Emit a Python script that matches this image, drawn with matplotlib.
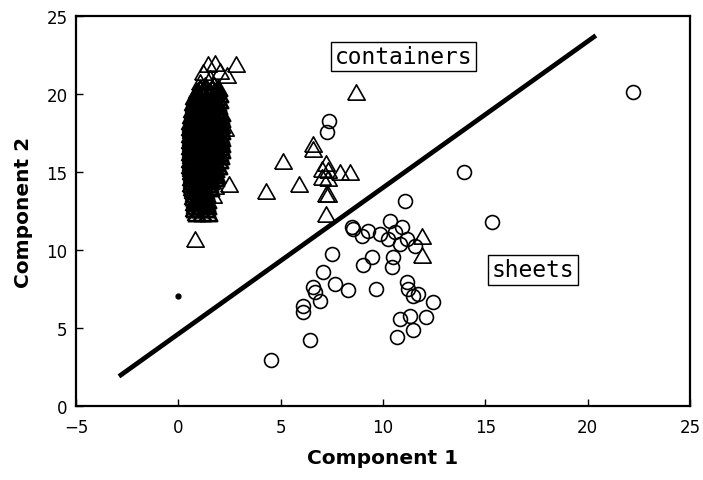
"""Scatter of the two principal components: containers vs sheets."""

import matplotlib

matplotlib.use("Agg")
import matplotlib.pyplot as plt
import numpy as np

# Containers core: rows of (component 2, [component 1 values])
core_rows = [
    (20.4, [1.05, 1.35, 1.65, 1.95]),
    (20.2, [0.9, 1.2, 1.5, 1.8]),
    (20.0, [0.85, 1.15, 1.45, 1.75, 2.0]),
    (19.8, [0.75, 1.05, 1.35, 1.65, 1.9]),
    (19.6, [0.8, 1.1, 1.4, 1.7, 2.0]),
    (19.4, [0.7, 1.0, 1.3, 1.6, 1.9]),
    (19.2, [0.75, 1.05, 1.35, 1.65, 1.95]),
    (19.0, [0.65, 0.95, 1.25, 1.55, 1.85]),
    (18.8, [0.7, 1.0, 1.3, 1.6, 1.9, 2.1]),
    (18.6, [0.6, 0.9, 1.2, 1.5, 1.8, 2.05]),
    (18.4, [0.65, 0.95, 1.25, 1.55, 1.85, 2.1]),
    (18.2, [0.55, 0.85, 1.15, 1.45, 1.75, 2.0]),
    (18.0, [0.6, 0.9, 1.2, 1.5, 1.8, 2.1]),
    (17.8, [0.55, 0.85, 1.15, 1.45, 1.75, 2.05]),
    (17.6, [0.6, 0.9, 1.2, 1.5, 1.8, 2.1]),
    (17.4, [0.55, 0.85, 1.15, 1.45, 1.75, 2.05]),
    (17.2, [0.6, 0.9, 1.2, 1.5, 1.8, 2.1]),
    (17.0, [0.55, 0.85, 1.15, 1.45, 1.75, 2.05]),
    (16.8, [0.6, 0.9, 1.2, 1.5, 1.8, 2.1]),
    (16.6, [0.55, 0.85, 1.15, 1.45, 1.75, 2.05]),
    (16.4, [0.6, 0.9, 1.2, 1.5, 1.8, 2.1]),
    (16.2, [0.55, 0.85, 1.15, 1.45, 1.75, 2.0]),
    (16.0, [0.6, 0.9, 1.2, 1.5, 1.8, 2.05]),
    (15.8, [0.55, 0.85, 1.15, 1.45, 1.75, 2.0]),
    (15.6, [0.6, 0.9, 1.2, 1.5, 1.8]),
    (15.4, [0.55, 0.85, 1.15, 1.45, 1.75, 1.95]),
    (15.2, [0.6, 0.9, 1.2, 1.5, 1.8]),
    (15.0, [0.6, 0.9, 1.2, 1.5, 1.75]),
    (14.8, [0.65, 0.95, 1.25, 1.55, 1.85]),
    (14.6, [0.6, 0.9, 1.2, 1.5, 1.8]),
    (14.4, [0.65, 0.95, 1.25, 1.55]),
    (14.2, [0.6, 0.9, 1.2, 1.5]),
    (14.0, [0.65, 0.95, 1.25, 1.55]),
    (13.8, [0.7, 1.0, 1.3]),
    (13.6, [0.75, 1.05, 1.35]),
    (13.4, [0.7, 1.0, 1.3]),
    (13.2, [0.8, 1.1, 1.4]),
    (13.0, [0.75, 1.05, 1.35]),
    (12.8, [0.8, 1.1, 1.4]),
    (12.6, [0.75, 1.05, 1.35]),
    (12.4, [0.85, 1.15, 1.45]),
]

# Containers around the core and scattered away from it
outer_x = [
    1.45, 1.8, 1.2, 2.03, 1.06, 1.55, 2.38, 2.82, 1.3, 1.75,
    2.5, 1.8, 1.7, 2.3, 0.8,
    6.6, 6.6, 5.1, 7.2, 7.0, 7.3, 7.9, 8.4, 7.0, 7.3,
    5.9, 4.3, 7.3, 7.2, 7.2, 8.7, 11.9, 11.9,
]
outer_y = [
    21.9, 22.0, 21.4, 21.5, 20.8, 21.0, 21.2, 21.9, 20.6, 20.6,
    14.2, 14.1, 13.5, 17.8, 10.7,
    16.8, 16.5, 15.7, 15.6, 15.2, 15.1, 15.0, 15.0, 14.7, 14.6,
    14.2, 13.8, 13.6, 12.3, 13.6, 20.1, 10.9, 9.7,
]

# Sheets (circles)
sheets_x = [
    4.53, 6.43, 6.09, 6.09, 6.58, 6.68, 6.92, 7.07, 7.51, 7.65,
    8.29, 8.48, 8.53, 9.26, 8.97, 9.02, 9.46, 9.66, 10.34, 9.85,
    10.24, 10.58, 10.83, 10.93, 11.17, 11.56, 10.49, 10.44, 11.07, 11.17,
    11.22, 11.46, 11.71, 12.44, 10.83, 11.32, 12.10, 11.46, 10.68, 13.95,
    15.32, 22.2, 7.36, 7.26,
]
sheets_y = [
    2.95, 4.23, 6.41, 6.03, 7.63, 7.31, 6.73, 8.59, 9.74, 7.82,
    7.44, 11.47, 11.35, 11.22, 10.90, 9.04, 9.55, 7.50, 11.86, 11.03,
    10.71, 11.15, 10.38, 11.47, 10.71, 10.26, 9.55, 8.91, 13.14, 7.95,
    7.50, 7.05, 7.18, 6.67, 5.58, 5.77, 5.71, 4.87, 4.42, 15.00,
    11.79, 20.13, 18.27, 17.56,
]

# Separating line between the two classes
boundary_x = [-2.9, 20.4]
boundary_y = [1.9, 23.75]

# Stray point near the origin
stray_x = [0.0]
stray_y = [7.05]

core_x = [x for _, xs in core_rows for x in xs]
core_y = [y for y, xs in core_rows for _ in xs]

# Triangle a little wider than tall
tri = [(-1.0, -0.88), (1.0, -0.88), (0.0, 0.88), (-1.0, -0.88)]
tri_style = dict(linestyle="none", marker=tri, markersize=12.5,
                 markerfacecolor="none", markeredgecolor="black")

fig = plt.figure(figsize=(7.03, 4.81), dpi=100)
ax = fig.add_axes([76 / 703, 1 - 407 / 481, 614 / 703, 390 / 481])

# heavy overlap in the core, so outlines drawn a bit thicker there
ax.plot(core_x, core_y, markeredgewidth=1.9, **tri_style)
ax.plot(outer_x, outer_y, markeredgewidth=1.2, **tri_style)
ax.plot(
    sheets_x, sheets_y, linestyle="none", marker="o", markersize=10,
    markerfacecolor="none", markeredgecolor="black", markeredgewidth=1.2,
)
ax.plot(boundary_x, boundary_y, color="black", linewidth=3.4, solid_capstyle="butt")
ax.plot(stray_x, stray_y, linestyle="none", marker="o", markersize=3.5, color="black")

box = dict(boxstyle="square,pad=0.15", facecolor="white", edgecolor="black", linewidth=1)
ax.text(11.0, 22.4, "containers", family="DejaVu Sans Mono", fontsize=16.5,
        ha="center", va="center", bbox=box)
ax.text(17.33, 8.72, "sheets", family="DejaVu Sans Mono", fontsize=16.5,
        ha="center", va="center", bbox=box)

ax.set_xlim(-5, 25)
ax.set_ylim(0, 25)
ax.set_xticks(np.arange(-5, 26, 5))
ax.set_yticks(np.arange(0, 26, 5))
ax.tick_params(direction="in", length=5, width=1, labelsize=12, top=False, right=False)
ax.tick_params(axis="x", pad=9)
ax.tick_params(axis="y", pad=6)
for spine in ax.spines.values():
    spine.set_linewidth(1.6)

ax.set_xlabel("Component 1", fontsize=14.5, fontweight="bold", labelpad=8)
ax.set_ylabel("Component 2", fontsize=14.5, fontweight="bold", labelpad=10)

fig.savefig("out.png", dpi=100)
